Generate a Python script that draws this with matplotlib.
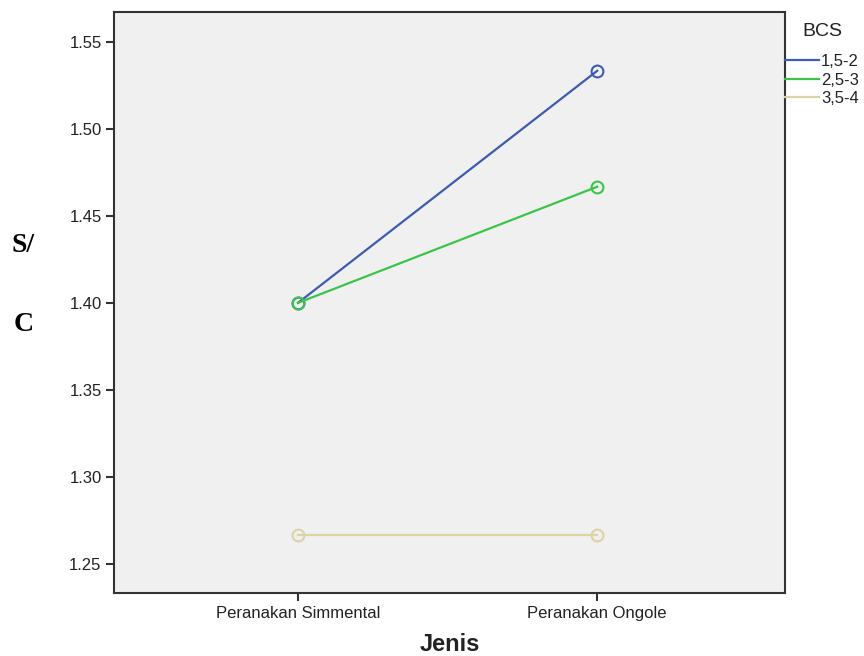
import matplotlib.pyplot as plt

# profile plot values (estimated marginal means)
jenis = ["Peranakan Simmental", "Peranakan Ongole"]
bcs_labels = ["1,5-2", "2,5-3", "3,5-4"]
bcs_15_2 = [1.400, 1.5333]
bcs_25_3 = [1.400, 1.4667]
bcs_35_4 = [1.2667, 1.2667]
yticks = [1.25, 1.30, 1.35, 1.40, 1.45, 1.50, 1.55]

colors = ["#3f5bb0", "#3cc449", "#dcd3a4"]
series = [bcs_15_2, bcs_25_3, bcs_35_4]

plt.rcParams["font.family"] = ["Liberation Sans", "DejaVu Sans"]

fig = plt.figure(figsize=(8.64, 6.56), dpi=100)
ax = fig.add_axes([0.132, 0.096, 0.777, 0.886])
ax.set_facecolor("#f0f0f0")

xs = range(len(jenis))
for vals, lab, c in zip(series, bcs_labels, colors):
    ax.plot(xs, vals, color=c, lw=1.6, marker="o", ms=8.5,
            mfc="none", mec=c, mew=1.5, label=lab)

ax.set_xlim(-0.615, 1.629)
ax.set_ylim(1.2333, 1.5672)
ax.set_xticks(list(xs))
ax.set_xticklabels(jenis)
ax.set_yticks(yticks)
ax.set_yticklabels([f"{v:.2f}" for v in yticks])

for s in ax.spines.values():
    s.set_color("#333333")
    s.set_linewidth(1.5)
ax.tick_params(direction="out", length=6, width=1.5, color="#333333",
               labelsize=12, labelcolor="#222222", pad=3)

ax.set_xlabel("Jenis", fontsize=17, fontweight="bold", color="#222222", labelpad=9)

# y label drawn as two separate lines like the original
fig.text(0.027, 0.625, "S/", fontsize=20, fontweight="bold",
         family="Liberation Serif", ha="center", va="center")
fig.text(0.027, 0.506, "C", fontsize=20, fontweight="bold",
         family="Liberation Serif", ha="center", va="center")

leg = ax.legend(title="BCS", loc="upper left", bbox_to_anchor=(1.0, 0.98),
                frameon=False, fontsize=12, title_fontsize=14,
                handlelength=2.0, handletextpad=0.15, labelspacing=0.2,
                borderaxespad=0, borderpad=0)
for h in leg.legend_handles:
    h.set_marker("")
for t in leg.get_texts():
    t.set_color("#222222")
leg.get_title().set_color("#222222")
leg._legend_box.sep = 10

fig.savefig("out.png", dpi=100)
